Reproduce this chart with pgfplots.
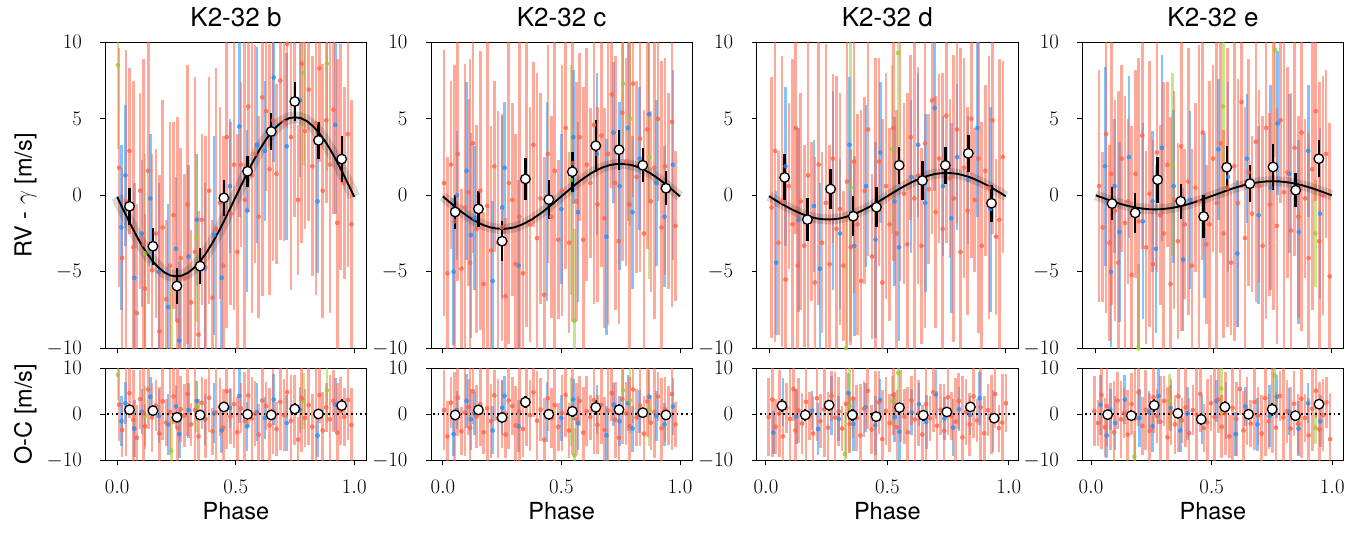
\documentclass[border=0pt]{standalone}
\usepackage[no-math]{fontspec}
\setmainfont{TeX Gyre Heros}
\usepackage{pgfplots}
\usepackage{pgfplotstable}
\pgfplotsset{compat=1.18}
\definecolor{rvred}{RGB}{255,99,71}
\definecolor{rvblue}{RGB}{30,144,255}
\definecolor{rvgreen}{RGB}{154,205,50}

% ---------------- Panel b ----------------
\pgfplotstableread{
ph rv err oc
0.008 1.8 7.8 2.1
0.021 -4.1 5.9 -3.4
0.038 -0.4 9.9 0.8
0.052 2.9 5.4 4.6
0.068 -3.4 10.9 -1.2
0.083 -7.7 7.1 -5.1
0.097 0.3 6.4 3.3
0.112 -3.2 12.1 0.2
0.118 -6.1 4.9 -2.6
0.131 1.6 8.7 5.4
0.147 -4.9 7.6 -0.7
0.163 -2.5 5.5 1.9
0.178 -8.9 10.2 -4.2
0.192 -2.1 8.3 2.8
0.207 -6.8 5.2 -1.8
0.223 -4.6 9.4 0.5
0.238 -1.3 6.1 3.9
0.255 -8.2 13.3 -3.0
0.268 -4.1 7.2 1.1
0.283 -5.4 6.8 -0.3
0.297 -0.6 9.1 4.4
0.312 -7.0 4.7 -2.2
0.328 -3.7 11.4 0.9
0.343 -9.1 8.1 -4.8
0.357 -1.6 5.6 2.5
0.372 -4.7 8.6 -1.0
0.388 0.3 7.4 3.6
0.402 -6.7 5.1 -3.7
0.417 -2.2 10.5 0.4
0.433 -0.5 6.3 1.6
0.448 -4.6 8.5 -2.9
0.462 3.8 12.5 5.0
0.478 -1.2 6.0 -0.5
0.493 2.0 9.5 2.2
0.507 -3.7 7.7 -3.9
0.522 2.0 5.4 1.3
0.538 -0.3 10.8 -1.5
0.553 5.8 6.9 4.1
0.568 1.3 9.0 -0.9
0.582 2.7 7.1 0.1
0.597 -1.4 6.6 -4.4
0.612 6.4 13.0 3.0
0.628 5.5 5.2 1.8
0.643 1.7 8.2 -2.4
0.657 4.9 9.2 0.6
0.672 1.4 5.9 -3.2
0.688 7.5 10.4 2.7
0.703 4.8 7.8 -0.2
0.717 9.9 5.5 4.8
0.733 3.8 10.0 -1.4
0.748 6.2 7.6 1.0
0.763 -0.3 4.9 -5.5
0.778 8.6 11.7 3.5
0.792 4.2 6.4 -0.8
0.808 6.9 8.6 2.0
0.823 1.9 7.2 -2.7
0.838 4.7 11.2 0.3
0.853 8.3 6.1 4.2
0.867 0.3 8.3 -3.5
0.882 4.9 5.4 1.5
0.897 2.0 9.7 -1.1
0.912 5.6 6.8 2.9
0.928 -1.8 10.7 -4.0
0.943 2.5 7.4 0.7
0.958 0.8 6.3 -0.6
0.973 4.0 8.7 3.1
0.988 -1.9 8.1 -2.3
}\redb
\pgfplotstableread{
ph rv err oc
0.018 -2.1 5.4 -1.5
0.035 1.3 4.6 2.4
0.072 -5.4 6.2 -3.1
0.104 -2.5 4.8 0.6
0.140 -0.2 4.2 3.8
0.176 -5.0 5.8 -0.4
0.215 -7.3 6.7 -2.2
0.248 -3.5 4.7 1.7
0.262 -9.5 5.2 -4.3
0.301 -4.0 6.0 0.9
0.336 -1.6 4.3 2.9
0.371 -4.8 5.6 -1.1
0.409 -2.6 6.5 0.2
0.441 -5.4 4.9 -3.5
0.476 0.6 4.4 1.4
0.515 4.5 5.9 4.0
0.548 -1.0 5.3 -2.6
0.589 3.3 6.4 0.5
0.624 2.9 4.6 -0.8
0.660 7.7 5.5 3.2
0.715 3.2 6.1 -1.9
0.771 6.2 5.0 1.0
0.845 -0.4 4.7 -4.6
0.920 4.6 5.8 2.1
}\blueb
\pgfplotstableread{
ph rv err oc
0.003 8.5 5.5 8.6
0.118 -3.8 6.5 -0.3
0.228 -13.0 7.0 -7.9
0.335 -2.8 5.5 1.7
0.785 8.0 6.0 2.9
0.885 8.6 7.0 5.2
}\greenb
\pgfplotstableread{
ph rv err oc ocerr
0.052 -0.72 1.2 1.0 1.1
0.151 -3.33 1.2 0.8 1.1
0.252 -5.93 1.2 -0.65 1.1
0.350 -4.63 1.2 -0.15 1.1
0.450 -0.17 1.2 1.6 1.1
0.550 1.57 1.0 0.0 1.0
0.650 4.17 1.2 -0.15 1.1
0.749 6.13 1.3 1.15 1.2
0.849 3.59 1.2 0.07 1.1
0.947 2.37 1.5 1.9 1.4
}\binb
\pgfplotstableread{
x y
0 -0.1
0.025 -0.91
0.05 -1.71
0.075 -2.46
0.1 -3.16
0.125 -3.78
0.15 -4.31
0.175 -4.73
0.2 -5.05
0.225 -5.24
0.25 -5.3
0.275 -5.24
0.3 -5.05
0.325 -4.73
0.35 -4.31
0.375 -3.78
0.4 -3.16
0.425 -2.46
0.45 -1.71
0.475 -0.91
0.5 -0.1
0.525 0.71
0.55 1.51
0.575 2.26
0.6 2.96
0.625 3.58
0.65 4.11
0.675 4.53
0.7 4.85
0.725 5.04
0.75 5.1
0.775 5.04
0.8 4.85
0.825 4.53
0.85 4.11
0.875 3.58
0.9 2.96
0.925 2.26
0.95 1.51
0.975 0.71
1 -0.1
}\modb

% ---------------- Panel c ----------------
\pgfplotstableread{
ph rv err oc
0.005 0.8 8.7 0.9
0.019 -5.1 7.6 -4.8
0.034 2.0 5.5 2.5
0.049 -1.7 10.2 -1.0
0.063 2.7 8.3 3.6
0.078 -4.8 5.2 -3.7
0.093 -0.8 9.4 0.4
0.108 0.2 6.1 1.6
0.115 -4.4 13.3 -2.9
0.127 3.4 7.2 5.0
0.142 -2.2 6.8 -0.5
0.158 0.3 9.1 2.2
0.172 -5.8 4.7 -3.9
0.187 -0.7 11.4 1.3
0.203 -3.6 8.1 -1.5
0.217 1.9 5.6 4.1
0.233 -3.1 8.6 -0.9
0.249 -2.1 7.4 0.1
0.264 -6.6 5.1 -4.4
0.278 0.8 10.5 3.0
0.293 -0.3 6.3 1.8
0.307 -4.5 8.5 -2.4
0.322 -1.4 12.5 0.6
0.338 -5.1 6.0 -3.2
0.352 0.9 9.5 2.7
0.367 -1.9 7.7 -0.2
0.382 3.3 5.4 4.8
0.397 -2.8 10.8 -1.4
0.412 -0.2 6.9 1.0
0.428 -6.5 9.0 -5.5
0.443 2.7 7.1 3.5
0.458 -1.4 6.6 -0.8
0.472 1.6 13.0 2.0
0.487 -2.9 5.2 -2.7
0.502 0.3 8.2 0.3
0.518 4.4 9.2 4.2
0.532 -3.1 5.9 -3.5
0.547 2.1 10.4 1.5
0.563 -0.4 7.8 -1.1
0.577 3.8 5.5 2.9
0.592 -2.9 10.0 -4.0
0.607 2.0 7.6 0.7
0.622 0.8 4.9 -0.6
0.637 4.6 11.7 3.1
0.652 -0.6 6.4 -2.3
0.668 3.9 8.6 2.1
0.682 -1.5 7.2 -3.4
0.697 2.7 11.2 0.8
0.712 6.6 6.1 4.6
0.727 0.8 8.3 -1.2
0.742 -3.0 5.4 -5.1
0.757 5.4 9.7 3.3
0.773 2.2 6.8 0.2
0.787 -0.6 10.7 -2.6
0.802 7.3 7.4 5.4
0.817 1.2 6.3 -0.7
0.832 3.7 8.7 1.9
0.848 -2.5 8.1 -4.2
0.862 4.3 7.8 2.8
0.877 -0.4 5.9 -1.8
0.892 1.8 9.9 0.5
0.907 5.0 5.4 3.9
0.922 -2.1 10.9 -3.0
0.937 1.9 7.1 1.1
0.952 0.3 6.4 -0.3
0.966 4.8 12.1 4.4
0.981 -2.0 4.9 -2.2
}\redc
\pgfplotstableread{
ph rv err oc
0.045 -5.0 4.8 -4.3
0.060 0.0 4.2 0.9
0.100 1.6 5.8 2.9
0.118 -2.6 6.7 -1.1
0.133 -1.5 4.7 0.2
0.210 -5.6 5.2 -3.5
0.250 -0.8 6.0 1.4
0.260 1.8 4.3 4.0
0.320 -4.6 5.6 -2.6
0.440 -0.4 6.5 0.5
0.500 -0.9 4.9 -0.8
0.550 3.8 4.4 3.2
0.570 -1.1 5.9 -1.9
0.650 2.7 5.3 1.0
0.690 -2.7 6.4 -4.6
0.720 4.1 4.6 2.1
0.745 0.6 5.5 -1.5
0.780 4.4 6.1 2.4
0.800 -1.1 5.0 -3.1
0.830 2.4 4.7 0.6
0.870 5.3 5.8 3.8
0.900 0.8 5.4 -0.4
0.935 -1.4 4.6 -2.2
0.970 2.0 6.2 1.7
}\bluec
\pgfplotstableread{
ph rv err oc
0.540 1.0 7.5 0.5
0.555 -8.2 6.0 -8.9
0.760 7.3 4.5 5.2
0.790 5.0 7.0 3.0
0.870 2.5 8.0 1.0
}\greenc
\pgfplotstableread{
ph rv err oc ocerr
0.052 -1.09 1.1 -0.15 1.0
0.150 -0.89 1.2 0.95 1.1
0.250 -3.00 1.3 -0.70 1.2
0.348 1.07 1.4 2.65 1.3
0.447 -0.28 1.25 0.0 1.2
0.546 1.54 1.3 0.65 1.2
0.645 3.24 1.7 1.5 1.6
0.743 2.98 1.3 1.0 1.2
0.843 1.96 1.1 0.35 1.0
0.941 0.46 1.1 -0.15 1.0
}\binc
\pgfplotstableread{
x y
0 -0.07
0.025 -0.40
0.05 -0.73
0.075 -1.04
0.1 -1.32
0.125 -1.58
0.15 -1.79
0.175 -1.97
0.2 -2.10
0.225 -2.17
0.25 -2.20
0.275 -2.17
0.3 -2.10
0.325 -1.97
0.35 -1.79
0.375 -1.58
0.4 -1.32
0.425 -1.04
0.45 -0.73
0.475 -0.40
0.5 -0.07
0.525 0.26
0.55 0.59
0.575 0.90
0.6 1.18
0.625 1.44
0.65 1.65
0.675 1.83
0.7 1.96
0.725 2.03
0.75 2.06
0.775 2.03
0.8 1.96
0.825 1.83
0.85 1.65
0.875 1.44
0.9 1.18
0.925 0.90
0.95 0.59
0.975 0.26
1 -0.07
}\modc

% ---------------- Panel d ----------------
\pgfplotstableread{
ph rv err oc
0.011 -0.8 8.5 -0.6
0.026 2.9 12.5 3.2
0.040 -3.1 6.0 -2.7
0.055 -0.4 9.5 0.2
0.070 -5.5 7.7 -4.8
0.084 0.6 5.4 1.4
0.099 -1.9 10.8 -1.0
0.113 4.4 6.9 5.5
0.121 -4.6 9.0 -3.5
0.134 -0.4 7.1 0.8
0.149 -3.3 6.6 -2.0
0.165 1.3 13.0 2.7
0.179 -1.7 5.2 -0.3
0.194 -5.7 8.2 -4.2
0.210 2.0 9.2 3.5
0.224 -3.1 5.9 -1.5
0.240 -0.5 10.4 1.1
0.256 -4.5 7.8 -2.9
0.270 2.4 5.5 4.0
0.285 -2.2 10.0 -0.7
0.300 -0.9 7.6 0.6
0.314 -4.6 4.9 -3.1
0.329 0.9 11.7 2.3
0.345 -3.4 6.4 -2.1
0.359 2.2 8.6 3.4
0.374 -1.9 7.2 -0.8
0.389 -5.6 11.2 -4.6
0.404 0.3 6.1 1.2
0.419 4.3 8.3 5.1
0.435 -4.0 5.4 -3.3
0.450 -0.7 9.7 -0.2
0.465 2.2 6.8 2.6
0.479 -5.7 10.7 -5.4
0.494 0.6 7.4 0.7
0.509 -1.9 6.3 -1.9
0.525 4.4 8.7 4.2
0.539 -2.5 8.1 -2.8
0.554 2.2 7.8 1.8
0.570 0.1 5.9 -0.5
0.584 -3.2 9.9 -3.9
0.599 3.8 5.4 3.0
0.614 -0.2 10.9 -1.1
0.629 1.3 7.1 0.3
0.644 -3.3 6.4 -4.4
0.659 3.4 12.1 2.2
0.675 0.4 4.9 -0.9
0.689 6.2 8.7 4.8
0.704 -1.1 7.6 -2.5
0.719 2.4 5.5 1.0
0.734 -2.2 10.2 -3.6
0.749 5.2 8.3 3.7
0.764 1.1 5.2 -0.4
0.780 -0.2 9.4 -1.6
0.794 4.3 6.1 2.9
0.809 -3.7 13.3 -5.0
0.824 1.8 7.2 0.5
0.839 -1.0 6.8 -2.2
0.855 5.0 9.1 3.9
0.869 -0.3 4.7 -1.3
0.884 2.4 11.4 1.5
0.899 -3.3 8.1 -4.1
0.914 1.6 5.6 0.9
0.929 0.5 8.6 -0.1
0.944 4.9 7.4 4.4
0.959 -2.7 5.1 -3.0
0.973 -1.6 10.5 -1.8
0.988 2.5 6.3 2.4
}\redd
\pgfplotstableread{
ph rv err oc
0.030 -4.4 4.7 -4.0
0.070 1.9 5.2 2.6
0.125 -1.6 6.0 -0.5
0.190 -0.7 4.3 0.8
0.215 -4.8 5.6 -3.2
0.270 0.3 6.5 1.9
0.300 -2.5 4.9 -1.0
0.340 3.3 4.4 4.6
0.360 -3.3 5.9 -2.1
0.410 0.6 5.3 1.5
0.450 -2.9 6.4 -2.4
0.470 2.8 4.6 3.1
0.530 -0.4 5.5 -0.6
0.550 -3.4 6.1 -3.8
0.600 1.2 5.0 0.4
0.630 3.3 4.7 2.2
0.660 -0.5 5.8 -1.7
0.700 5.7 5.4 4.3
0.735 0.6 4.6 -0.9
0.770 -1.5 6.2 -2.9
0.795 2.5 4.8 1.1
0.840 1.0 4.2 -0.2
0.880 4.4 5.8 3.5
0.935 -0.9 6.7 -1.4
}\blued
\pgfplotstableread{
ph rv err oc
0.325 -10.0 9.0 -8.6
0.345 0.5 10.0 1.8
0.520 3.0 5.5 2.9
0.545 9.3 8.0 9.0
}\greend
\pgfplotstableread{
ph rv err oc ocerr
0.066 1.17 1.5 1.87 1.4
0.162 -1.59 1.4 -0.15 1.3
0.260 0.41 1.3 2.0 1.2
0.356 -1.37 1.3 -0.15 1.2
0.454 -0.78 1.3 -0.5 1.2
0.550 1.96 1.2 1.45 1.1
0.648 0.96 1.3 -0.2 1.2
0.745 1.96 1.2 0.5 1.1
0.842 2.74 1.2 1.6 1.1
0.940 -0.52 1.2 -0.85 1.1
}\bind
\pgfplotstableread{
x y
0 -0.06
0.025 -0.30
0.05 -0.53
0.075 -0.75
0.1 -0.95
0.125 -1.13
0.15 -1.29
0.175 -1.41
0.2 -1.51
0.225 -1.56
0.25 -1.58
0.275 -1.56
0.3 -1.51
0.325 -1.41
0.35 -1.29
0.375 -1.13
0.4 -0.95
0.425 -0.75
0.45 -0.53
0.475 -0.30
0.5 -0.06
0.525 0.18
0.55 0.41
0.575 0.63
0.6 0.83
0.625 1.01
0.65 1.17
0.675 1.29
0.7 1.39
0.725 1.44
0.75 1.46
0.775 1.44
0.8 1.39
0.825 1.29
0.85 1.17
0.875 1.01
0.9 0.83
0.925 0.63
0.95 0.41
0.975 0.18
1 -0.06
}\modd

% ---------------- Panel e ----------------
\pgfplotstableread{
ph rv err oc
0.014 0.6 7.6 0.7
0.029 -2.1 4.9 -1.9
0.043 4.0 11.7 4.2
0.058 -3.1 6.4 -2.8
0.066 1.4 8.6 1.8
0.081 -1.0 7.2 -0.5
0.096 -4.4 11.2 -3.9
0.110 2.4 6.1 3.0
0.124 -1.8 8.3 -1.1
0.137 -0.4 5.4 0.3
0.152 -5.2 9.7 -4.4
0.168 1.4 6.8 2.2
0.182 -1.7 10.7 -0.9
0.197 3.9 7.4 4.8
0.213 -3.4 6.3 -2.5
0.227 0.1 8.7 1.0
0.243 -4.5 8.1 -3.6
0.259 2.8 7.8 3.7
0.273 -1.3 5.9 -0.4
0.288 -2.5 9.9 -1.6
0.303 2.0 5.4 2.9
0.317 -5.8 10.9 -5.0
0.332 -0.3 7.1 0.5
0.348 -3.0 6.4 -2.2
0.362 3.2 12.1 3.9
0.377 -1.9 4.9 -1.3
0.392 0.9 8.7 1.5
0.407 -4.6 7.6 -4.1
0.422 0.5 5.5 0.9
0.438 -0.4 10.2 -0.1
0.453 4.1 8.3 4.4
0.468 -3.2 5.2 -3.0
0.482 -1.9 9.4 -1.8
0.497 2.4 6.1 2.4
0.512 -0.5 13.3 -0.6
0.528 3.4 7.2 3.2
0.542 -2.5 6.8 -2.7
0.557 0.5 9.1 0.2
0.573 -4.4 4.7 -4.8
0.587 1.9 11.4 1.4
0.602 -0.5 8.1 -1.0
0.617 6.1 5.6 5.5
0.632 -2.8 8.6 -3.5
0.647 1.5 7.4 0.8
0.662 -1.2 5.1 -2.0
0.678 3.5 10.5 2.7
0.692 0.6 6.3 -0.3
0.707 -3.3 8.5 -4.2
0.722 4.4 12.5 3.5
0.737 -0.6 6.0 -1.5
0.752 2.0 9.5 1.1
0.767 -2.0 7.7 -2.9
0.783 4.9 5.4 4.0
0.797 0.2 10.8 -0.7
0.812 1.5 6.9 0.6
0.827 -2.3 9.0 -3.1
0.842 3.1 7.1 2.3
0.858 -1.4 6.6 -2.1
0.872 4.1 13.0 3.4
0.887 -0.2 5.2 -0.8
0.902 -4.1 8.2 -4.6
0.917 1.7 9.2 1.2
0.932 5.5 5.9 5.1
0.947 -3.0 10.4 -3.3
0.962 0.0 7.8 -0.2
0.976 2.7 5.5 2.6
0.991 -5.3 10.0 -5.4
}\rede
\pgfplotstableread{
ph rv err oc
0.040 1.9 6.5 2.1
0.065 -5.0 4.9 -4.6
0.080 0.6 4.4 1.0
0.100 -2.4 5.9 -1.9
0.140 2.5 5.3 3.2
0.200 -1.7 6.4 -0.8
0.240 -0.4 4.6 0.5
0.255 -3.5 5.5 -2.6
0.280 3.1 6.1 4.0
0.330 0.6 5.0 1.4
0.370 -4.2 4.7 -3.5
0.400 -0.3 5.8 0.2
0.460 -1.3 5.4 -1.1
0.520 3.0 4.6 2.9
0.560 1.2 6.2 0.9
0.600 -3.8 4.8 -4.3
0.640 2.4 4.2 1.7
0.690 -1.3 5.8 -2.2
0.740 0.5 6.7 -0.4
0.770 4.7 4.7 3.8
0.820 1.4 5.2 0.6
0.860 -2.4 6.0 -3.1
0.900 2.9 4.3 2.4
0.950 -1.2 5.6 -1.5
}\bluee
\pgfplotstableread{
ph rv err oc
0.180 -10.0 5.5 -9.2
0.325 2.0 6.0 2.8
0.540 5.8 6.0 5.6
0.760 9.5 7.0 8.6
0.930 -2.5 3.5 -2.9
}\greene
\pgfplotstableread{
ph rv err oc ocerr
0.069 -0.54 1.1 -0.07 1.0
0.167 -1.15 1.3 -0.3 1.2
0.262 1.02 1.5 1.95 1.4
0.360 -0.39 1.15 0.2 1.1
0.457 -1.39 1.4 -1.1 1.3
0.555 1.83 1.4 1.6 1.3
0.653 0.76 1.2 0.0 1.1
0.751 1.85 1.5 1.1 1.4
0.847 0.33 1.1 -0.3 1.0
0.945 2.39 1.2 2.2 1.1
}\bine
\pgfplotstableread{
x y
0 0
0.025 -0.14
0.05 -0.28
0.075 -0.42
0.1 -0.54
0.125 -0.65
0.15 -0.74
0.175 -0.82
0.2 -0.87
0.225 -0.91
0.25 -0.92
0.275 -0.91
0.3 -0.87
0.325 -0.82
0.35 -0.74
0.375 -0.65
0.4 -0.54
0.425 -0.42
0.45 -0.28
0.475 -0.14
0.5 0
0.525 0.14
0.55 0.28
0.575 0.42
0.6 0.54
0.625 0.65
0.65 0.74
0.675 0.82
0.7 0.87
0.725 0.91
0.75 0.92
0.775 0.91
0.8 0.87
0.825 0.82
0.85 0.74
0.875 0.65
0.9 0.54
0.925 0.42
0.95 0.28
0.975 0.14
1 0
}\mode

\pgfplotsset{
  base/.style={scale only axis, width=261.3pt, ymin=-10, ymax=10,
    tick align=outside, tick pos=left, major tick length=5pt,
    every tick/.append style={line width=0.9pt, black},
    axis line style={line width=1pt},
    xtick={0,0.5,1},
    tick label style={font=\fontsize{21}{25}\selectfont},
    yticklabel style={anchor=east, inner sep=0pt, xshift=-18.3pt},
    xticklabel style={anchor=north, inner sep=0pt, yshift=-14.7pt},
    label style={font=\fontsize{23.5}{28}\selectfont},
    ylabel style={at={(axis description cs:-0.2817,0.5)}, anchor=base},
    anchor=south west},
  toppanel/.style={base, height=306pt, ytick={-10,-5,0,5,10}, xticklabels={},
    title style={at={(0.5,1)}, anchor=base, yshift=9.3pt, font=\fontsize{26}{30}\selectfont}},
  lowpanel/.style={base, height=92pt, ytick={-10,0,10},
    xticklabels={$0.0$,$0.5$,$1.0$}, xlabel={Phase},
    xlabel style={at={(axis description cs:0.5,0)}, anchor=base, yshift=-59pt}},
  pts/.style={only marks, mark=*, mark size=2.1pt, color=#1,
    mark options={draw=none, fill=#1, opacity=0.75},
    error bars/.cd, y dir=both, y explicit, error mark=none,
    error bar style={line width=2.6pt, #1, opacity=0.55}},
  binned/.style={only marks, mark=*, mark size=4.8pt, color=black,
    mark options={fill=white, draw=black, line width=1.3pt, opacity=1},
    error bars/.cd, y dir=both, y explicit, error mark=none,
    error bar style={line width=2.4pt, black}},
  band/.style={black, opacity=0.15, line width=#1, line join=round},
  modline/.style={black, line width=1.9pt},
  zeroline/.style={black, line width=1.6pt, dash pattern=on 1.6pt off 3pt},
}

\begin{document}
\begin{tikzpicture}
\path[use as bounding box] (0,0) rectangle (1357pt,535pt);

% ===== b =====
\begin{axis}[toppanel, at={(105.3pt,186.7pt)}, xmin=-0.05, xmax=1.052,
  title={K2-32 b}, ylabel={RV - $\gamma$ [m/s]}]
\addplot[pts=rvblue] table[x=ph, y=rv, y error=err] {\blueb};
\addplot[pts=rvgreen] table[x=ph, y=rv, y error=err] {\greenb};
\addplot[pts=rvred] table[x=ph, y=rv, y error=err] {\redb};
\addplot[band=12pt] table {\modb};
\addplot[modline] table {\modb};
\addplot[binned] table[x=ph, y=rv, y error=err] {\binb};
\end{axis}
\begin{axis}[lowpanel, at={(105.3pt,74.7pt)}, xmin=-0.05, xmax=1.052,
  ylabel={O-C [m/s]}]
\addplot[pts=rvblue] table[x=ph, y=oc, y error=err] {\blueb};
\addplot[pts=rvgreen] table[x=ph, y=oc, y error=err] {\greenb};
\addplot[pts=rvred] table[x=ph, y=oc, y error=err] {\redb};
\addplot[zeroline] coordinates {(-0.1,0) (1.1,0)};
\addplot[binned] table[x=ph, y=oc, y error=ocerr] {\binb};
\end{axis}

% ===== c =====
\begin{axis}[toppanel, at={(431pt,186.7pt)}, xmin=-0.05, xmax=1.052,
  title={K2-32 c}]
\addplot[pts=rvblue] table[x=ph, y=rv, y error=err] {\bluec};
\addplot[pts=rvgreen] table[x=ph, y=rv, y error=err] {\greenc};
\addplot[pts=rvred] table[x=ph, y=rv, y error=err] {\redc};
\addplot[band=10pt] table {\modc};
\addplot[modline] table {\modc};
\addplot[binned] table[x=ph, y=rv, y error=err] {\binc};
\end{axis}
\begin{axis}[lowpanel, at={(431pt,74.7pt)}, xmin=-0.05, xmax=1.052]
\addplot[pts=rvblue] table[x=ph, y=oc, y error=err] {\bluec};
\addplot[pts=rvgreen] table[x=ph, y=oc, y error=err] {\greenc};
\addplot[pts=rvred] table[x=ph, y=oc, y error=err] {\redc};
\addplot[zeroline] coordinates {(-0.1,0) (1.1,0)};
\addplot[binned] table[x=ph, y=oc, y error=ocerr] {\binc};
\end{axis}

% ===== d =====
\begin{axis}[toppanel, at={(756.7pt,186.7pt)}, xmin=-0.052, xmax=1.052,
  title={K2-32 d}]
\addplot[pts=rvblue] table[x=ph, y=rv, y error=err] {\blued};
\addplot[pts=rvgreen] table[x=ph, y=rv, y error=err] {\greend};
\addplot[pts=rvred] table[x=ph, y=rv, y error=err] {\redd};
\addplot[band=10pt] table {\modd};
\addplot[modline] table {\modd};
\addplot[binned] table[x=ph, y=rv, y error=err] {\bind};
\end{axis}
\begin{axis}[lowpanel, at={(756.7pt,74.7pt)}, xmin=-0.038, xmax=1.038]
\addplot[pts=rvblue] table[x=ph, y=oc, y error=err] {\blued};
\addplot[pts=rvgreen] table[x=ph, y=oc, y error=err] {\greend};
\addplot[pts=rvred] table[x=ph, y=oc, y error=err] {\redd};
\addplot[zeroline] coordinates {(-0.1,0) (1.1,0)};
\addplot[binned] table[x=ph, y=oc, y error=ocerr] {\bind};
\end{axis}

% ===== e =====
\begin{axis}[toppanel, at={(1082.3pt,186.7pt)}, xmin=-0.057, xmax=1.05,
  title={K2-32 e}]
\addplot[pts=rvblue] table[x=ph, y=rv, y error=err] {\bluee};
\addplot[pts=rvgreen] table[x=ph, y=rv, y error=err] {\greene};
\addplot[pts=rvred] table[x=ph, y=rv, y error=err] {\rede};
\addplot[band=10pt] table {\mode};
\addplot[modline] table {\mode};
\addplot[binned] table[x=ph, y=rv, y error=err] {\bine};
\end{axis}
\begin{axis}[lowpanel, at={(1082.3pt,74.7pt)}, xmin=-0.036, xmax=1.047]
\addplot[pts=rvblue] table[x=ph, y=oc, y error=err] {\bluee};
\addplot[pts=rvgreen] table[x=ph, y=oc, y error=err] {\greene};
\addplot[pts=rvred] table[x=ph, y=oc, y error=err] {\rede};
\addplot[zeroline] coordinates {(-0.1,0) (1.1,0)};
\addplot[binned] table[x=ph, y=oc, y error=ocerr] {\bine};
\end{axis}
\end{tikzpicture}
\end{document}
